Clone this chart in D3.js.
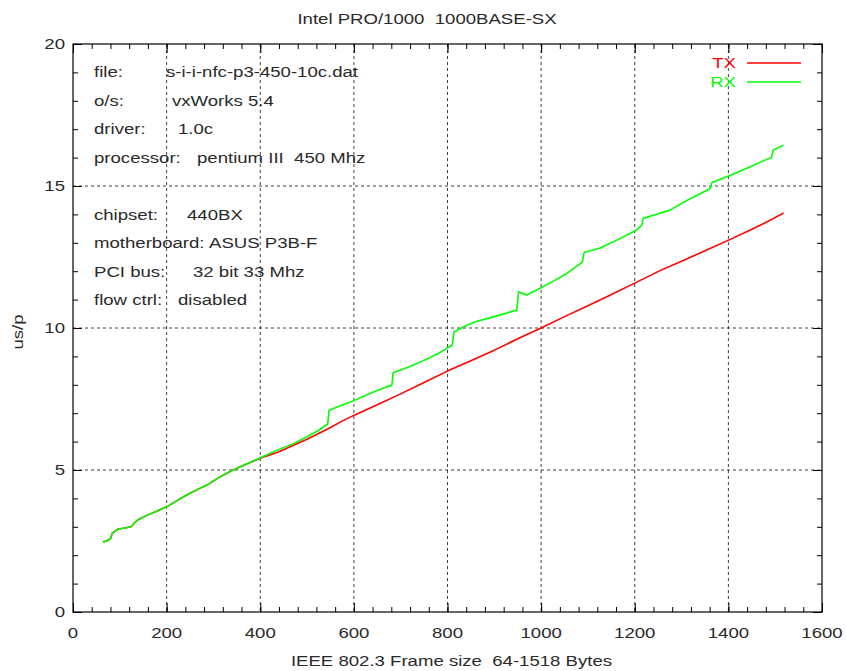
<!DOCTYPE html>
<html>
<head>
<meta charset="utf-8">
<script src="https://cdn.jsdelivr.net/npm/d3@7"></script>
<style>
    body { margin: 0; background: #fff; }
    text { font-family: "Liberation Sans", Arial, Helvetica, sans-serif; fill: #2a2a2a; white-space: pre; }
</style>
</head>
<body>
<div id="chart"></div>
<script>
// data: [frame size in bytes, us per packet]
var rxData = [
    [64, 2.47], [72, 2.5], [80, 2.58], [84, 2.78], [96, 2.92], [108, 2.95], [124, 3.0],
    [132, 3.15], [140, 3.26], [160, 3.42], [180, 3.56], [203, 3.73], [222, 3.92], [243, 4.12],
    [264, 4.3], [286, 4.47], [312, 4.74], [342, 5.0], [372, 5.22], [404, 5.46], [436, 5.7],
    [470, 5.92], [500, 6.17], [525, 6.4], [544, 6.62], [547, 7.1], [570, 7.25], [602, 7.46],
    [636, 7.7], [670, 7.93], [681, 7.98], [684, 8.42], [716, 8.62], [750, 8.86], [780, 9.1],
    [810, 9.4], [814, 9.86], [836, 10.05], [859, 10.22], [900, 10.4], [948, 10.63], [952, 11.28],
    [969, 11.16], [998, 11.4], [1026, 11.65], [1055, 11.92], [1088, 12.32], [1092, 12.66],
    [1126, 12.82], [1165, 13.12], [1204, 13.45], [1215, 13.62], [1218, 13.86], [1245, 14.0],
    [1275, 14.15], [1318, 14.55], [1361, 14.9], [1365, 15.12], [1405, 15.38], [1447, 15.68],
    [1470, 15.85], [1492, 16.0], [1496, 16.27], [1518, 16.44]
];
var txData = [
    [64, 2.47], [72, 2.5], [80, 2.58], [84, 2.78], [96, 2.92], [108, 2.95], [124, 3.0],
    [132, 3.15], [140, 3.26], [160, 3.42], [180, 3.56], [203, 3.73], [222, 3.92], [243, 4.12],
    [264, 4.3], [286, 4.47], [312, 4.74], [342, 5.0], [372, 5.22], [404, 5.44], [436, 5.62],
    [470, 5.86], [500, 6.08], [545, 6.45], [575, 6.72], [602, 6.94], [650, 7.3], [700, 7.68],
    [750, 8.08], [802, 8.5], [850, 8.85], [900, 9.22], [950, 9.62], [1000, 10.0], [1050, 10.4],
    [1100, 10.78], [1147, 11.15], [1200, 11.58], [1254, 12.02], [1300, 12.35], [1350, 12.72],
    [1404, 13.12], [1447, 13.45], [1490, 13.8], [1518, 14.05]
];
var xTicks = [0, 200, 400, 600, 800, 1000, 1200, 1400, 1600];
var yTicks = [0, 5, 10, 15, 20];
var infoLabels = ["file:", "o/s:", "driver:", "processor:", "", "chipset:", "motherboard:", "PCI bus:", "flow ctrl:"];
var infoValues = ["s-i-i-nfc-p3-450-10c.dat", "vxWorks 5.4", "1.0c", "pentium III  450 Mhz", "", "440BX", "ASUS P3B-F", "32 bit 33 Mhz", "disabled"];
var infoValueX = [166, 172, 178, 197, 0, 187, 209, 193, 178];
var seriesNames = ["TX", "RX"];
var seriesColors = ["#ff0000", "#00ff00"];

var svg_width = 846, svg_height = 671;
var margin = {top: 44, right: 24, bottom: 59, left: 73};
var width = svg_width - margin.left - margin.right;
var height = svg_height - margin.top - margin.bottom;
var SX = 1.24;  // the original font is drawn wide

var svg = d3.select("#chart").append("svg")
    .attr("width", svg_width)
    .attr("height", svg_height);

var x = d3.scaleLinear().domain([0, 1600]).range([0, width]);
var y = d3.scaleLinear().domain([0, 20]).range([height, 0]);

// wide text: translate then stretch horizontally
function wideText(parent, str, tx, ty, anchor, size) {
    return parent.append("text")
        .attr("transform", "translate(" + tx + "," + ty + ") scale(" + SX + ",1)")
        .attr("text-anchor", anchor)
        .style("font-size", size + "px")
        .text(str);
}

var el = svg.append("g")
    .attr("transform", "translate(" + margin.left + "," + margin.top + ")");

// grid
el.append("g").selectAll("line")
    .data(xTicks.slice(1, -1))
  .enter().append("line")
    .attr("x1", function(d) { return x(d); })
    .attr("x2", function(d) { return x(d); })
    .attr("y1", 0).attr("y2", height)
    .attr("stroke", "#000").attr("stroke-opacity", 0.75)
    .attr("stroke-dasharray", "3,3");
el.append("g").selectAll("line")
    .data(yTicks.slice(1, -1))
  .enter().append("line")
    .attr("y1", function(d) { return y(d); })
    .attr("y2", function(d) { return y(d); })
    .attr("x1", 0).attr("x2", width)
    .attr("stroke", "#000").attr("stroke-opacity", 0.75)
    .attr("stroke-dasharray", "3,3");

// ticks on all four sides, pointing inward
var xMinor = d3.range(0, 1601, 40), yMinor = d3.range(0, 21, 1);
function tickAxis(axisFn, scale, values, size, transform) {
    var g = el.append("g")
        .attr("transform", transform)
        .call(axisFn(scale).tickValues(values).tickSize(-size).tickSizeOuter(0).tickFormat(""));
    g.select(".domain").remove();
    g.selectAll("line").attr("stroke", "#000");
}
tickAxis(d3.axisBottom, x, xMinor, 5, "translate(0," + height + ")");
tickAxis(d3.axisBottom, x, xTicks, 9, "translate(0," + height + ")");
tickAxis(d3.axisTop, x, xMinor, 5, "translate(0,0)");
tickAxis(d3.axisTop, x, xTicks, 9, "translate(0,0)");
tickAxis(d3.axisLeft, y, yMinor, 5, "translate(0,0)");
tickAxis(d3.axisLeft, y, yTicks, 9, "translate(0,0)");
tickAxis(d3.axisRight, y, yMinor, 5, "translate(" + width + ",0)");
tickAxis(d3.axisRight, y, yTicks, 9, "translate(" + width + ",0)");

// series
var line = d3.line()
    .x(function(d) { return x(d[0]); })
    .y(function(d) { return y(d[1]); });

[txData, rxData].forEach(function(data, i) {
    el.append("path")
        .datum(data)
        .attr("fill", "none")
        .attr("stroke", seriesColors[i])
        .attr("stroke-width", 1.6)
        .attr("stroke-linejoin", "round")
        .attr("d", line);
});

// border
el.append("rect")
    .attr("width", width).attr("height", height)
    .attr("fill", "none").attr("stroke", "#000").attr("stroke-width", 1.2);

// tick labels
xTicks.forEach(function(d) {
    wideText(el, d, x(d), height + 26, "middle", 15);
});
yTicks.forEach(function(d) {
    wideText(el, d, -8, y(d) + 5, "end", 15);
});

// info block
infoLabels.forEach(function(lbl, i) {
    if (lbl === "") return;
    var by = 77 + i * 28.5 - margin.top;
    wideText(el, lbl, 94 - margin.left, by, "start", 15);
    wideText(el, infoValues[i], infoValueX[i] - margin.left, by, "start", 15);
});

// legend
seriesNames.forEach(function(name, i) {
    var ly = 63 + i * 19 - margin.top;
    wideText(el, name, 736 - margin.left, ly + 5, "end", 15).style("fill", seriesColors[i]);
    el.append("line")
        .attr("x1", 747 - margin.left).attr("x2", 801 - margin.left)
        .attr("y1", ly).attr("y2", ly)
        .attr("stroke", seriesColors[i]).attr("stroke-width", 1.6);
});

// titles
wideText(svg, "Intel PRO/1000  1000BASE-SX", svg_width / 2 + 4, 24, "middle", 15);
wideText(svg, "IEEE 802.3 Frame size  64-1518 Bytes", margin.left + width / 2 + 4, 666, "middle", 15);
svg.append("text")
    .attr("transform", "translate(23,332) rotate(-90) scale(" + SX + ",1)")
    .attr("text-anchor", "middle")
    .style("font-size", "15px")
    .text("us/p");
</script>
</body>
</html>
